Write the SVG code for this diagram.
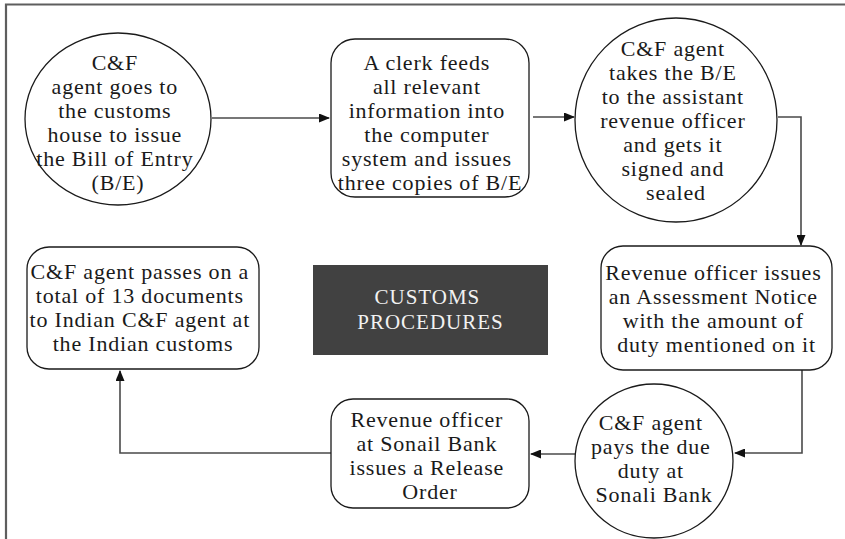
<svg xmlns="http://www.w3.org/2000/svg" width="845" height="539" viewBox="0 0 845 539">
  <style>
    .shape { fill: #ffffff; stroke: #1a1a1a; stroke-width: 1.3; }
    .label { font-family: "Liberation Serif", "Times New Roman", serif; font-size: 22px; letter-spacing: 0.8px; fill: #1a1a1a; text-anchor: middle; }
    .title { font-family: "Liberation Serif", "Times New Roman", serif; font-size: 21px; letter-spacing: 1px; fill: #f2f2f2; text-anchor: middle; }
    .link { fill: none; stroke: #4a4a4a; stroke-width: 1.6; marker-end: url(#arrow); }
    .frame { fill: none; stroke: #5e5e5e; stroke-width: 2.2; }
  </style>
  <defs>
    <marker id="arrow" markerUnits="userSpaceOnUse" markerWidth="11" markerHeight="9" refX="10" refY="4.5" orient="auto">
      <path d="M0,0 L11,4.5 L0,9 z" fill="#111111"/>
    </marker>
  </defs>

  <rect width="845" height="539" fill="#ffffff"/>

  <!-- outer frame: top and left rules only -->
  <path class="frame" d="M6,539 V4.5 H845"/>

  <g id="connectors">
    <path class="link" d="M212,118 H329"/>
    <path class="link" d="M533,117 H574"/>
    <path class="link" d="M778,117 H801 V245"/>
    <path class="link" d="M802,370 V453 H735"/>
    <path class="link" d="M575,454 H531"/>
    <path class="link" d="M331,453 H120 V371"/>
  </g>

  <g id="node-customs-house">
    <ellipse class="shape" cx="118" cy="119" rx="93" ry="86"/>
    <text class="label">
      <tspan x="118" y="70">C&amp;F</tspan>
      <tspan x="118" y="94">agent goes to</tspan>
      <tspan x="118" y="118">the customs</tspan>
      <tspan x="118" y="142">house to issue</tspan>
      <tspan x="118" y="166">the Bill of Entry</tspan>
      <tspan x="118" y="190">(B/E)</tspan>
    </text>
  </g>

  <g id="node-clerk">
    <rect class="shape" x="331" y="39" width="198" height="158" rx="24"/>
    <text class="label">
      <tspan x="430" y="70">A clerk feeds</tspan>
      <tspan x="430" y="94">all relevant</tspan>
      <tspan x="430" y="118">information into</tspan>
      <tspan x="430" y="142">the computer</tspan>
      <tspan x="430" y="166">system and issues</tspan>
      <tspan x="430" y="190">three copies of B/E</tspan>
    </text>
  </g>

  <g id="node-signed">
    <ellipse class="shape" cx="676" cy="120" rx="101" ry="102"/>
    <text class="label">
      <tspan x="676" y="56">C&amp;F agent</tspan>
      <tspan x="676" y="80">takes the B/E</tspan>
      <tspan x="676" y="104">to the assistant</tspan>
      <tspan x="676" y="128">revenue officer</tspan>
      <tspan x="676" y="152">and gets it</tspan>
      <tspan x="676" y="176">signed and</tspan>
      <tspan x="676" y="200">sealed</tspan>
    </text>
  </g>

  <g id="node-assessment">
    <rect class="shape" x="601" y="246" width="231" height="124" rx="22"/>
    <text class="label">
      <tspan x="716.5" y="280">Revenue officer issues</tspan>
      <tspan x="716.5" y="304">an Assessment Notice</tspan>
      <tspan x="716.5" y="328">with the amount of</tspan>
      <tspan x="716.5" y="352">duty mentioned on it</tspan>
    </text>
  </g>

  <g id="node-pays-duty">
    <ellipse class="shape" cx="654" cy="461" rx="79" ry="77"/>
    <text class="label">
      <tspan x="654" y="430">C&amp;F agent</tspan>
      <tspan x="654" y="454">pays the due</tspan>
      <tspan x="654" y="478">duty at</tspan>
      <tspan x="654" y="502">Sonali Bank</tspan>
    </text>
  </g>

  <g id="node-release-order">
    <rect class="shape" x="331" y="399" width="198" height="109" rx="22"/>
    <text class="label">
      <tspan x="430" y="427">Revenue officer</tspan>
      <tspan x="430" y="451">at Sonail Bank</tspan>
      <tspan x="430" y="475">issues a Release</tspan>
      <tspan x="430" y="499">Order</tspan>
    </text>
  </g>

  <g id="node-documents">
    <rect class="shape" x="27" y="247" width="232" height="122" rx="22"/>
    <text class="label">
      <tspan x="143" y="279">C&amp;F agent passes on a</tspan>
      <tspan x="143" y="303">total of 13 documents</tspan>
      <tspan x="143" y="327">to Indian C&amp;F agent at</tspan>
      <tspan x="143" y="351">the Indian customs</tspan>
    </text>
  </g>

  <g id="node-title">
    <rect x="313" y="265" width="235" height="90" fill="#414141"/>
    <text class="title">
      <tspan x="430.5" y="304">CUSTOMS</tspan>
      <tspan x="430.5" y="329">PROCEDURES</tspan>
    </text>
  </g>
</svg>
